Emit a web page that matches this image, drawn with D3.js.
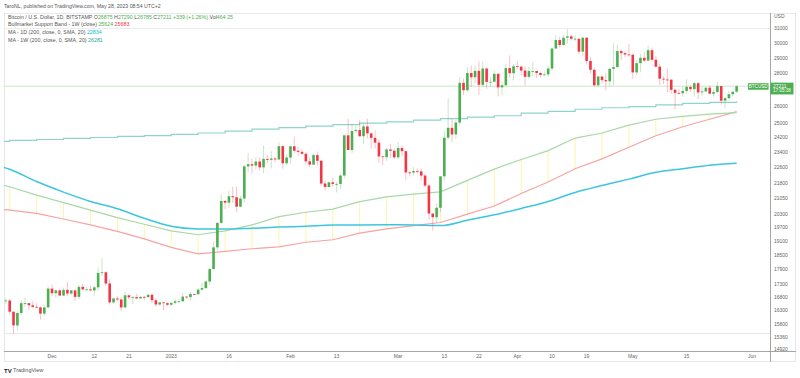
<!DOCTYPE html>
<html><head><meta charset="utf-8">
<script src="https://cdn.jsdelivr.net/npm/d3@7"></script>
<style>html,body{margin:0;padding:0;background:#fff}svg{display:block}text{font-family:"Liberation Sans",Arial,sans-serif}</style>
</head><body>
<svg id="c" width="800" height="378"></svg>
<script>
// ---------------- DATA ----------------
const startDate = "2022-11-19"; // first daily candle
const open = [
16690,16700,16280,15780,16230,16600,16600,16520,16460,16440,16210,16440,
17160,16980,17090,16890,17110,16970,17090,16840,17230,17130,17130,17090,17210,17780,17810,17360,16630,16780,16740,16440,16900,16820,16830,16780,16840,16830,16920,16710,16550,16630,16600,
16540,16610,16670,16670,16850,16830,16950,16940,17120,17180,17440,17940,18850,19930,20950,20870,21180,21130,20680,21070,22670,22780,22710,22920,22620,23060,23010,23080,23030,23740,22830,
23130,23730,23490,23430,23330,22930,22760,23260,22960,21800,21630,21860,21780,21780,22200,24330,23530,24570,24630,24280,24830,24440,24190,23930,23190,23150,23560,23490,
23140,23640,23470,22360,22350,22430,22410,22200,21700,20360,20190,20630,22160,24200,24750,24380,25050,27420,26960,28040,27770,28180,27300,28330,27480,27490,27990,27140,27270,28360,28030,
28480,28450,28200,27800,28170,28170,28040,27920,27950,28330,29650,30230,29890,30390,30490,30320,30320,29440,30390,28820,28250,27270,27820,27590,27520,28310,28420,29480,29340,29250,
29230,28080,28680,29030,28850,29540,28900,28450,27680,27630,27620,26990,26800,26780,26920,27170,27030,27400,26830,26890,27120,26750,26850,27220,26330,26480,26720,26875];
const high = [
16800,16750,16290,16300,16700,16800,16610,16680,16600,16480,16530,17250,
17320,17100,17150,17200,17420,17110,17130,17300,17350,17230,17270,17250,18000,18390,17850,17530,16800,16860,16820,17050,16920,16870,16950,16870,16870,16940,16970,16780,16650,16640,16630,
16630,16780,16760,16990,16880,17040,16970,17170,17390,17490,17990,19100,19970,21260,21000,21450,21640,21650,21190,22750,23360,23070,23160,23130,23780,23260,23470,23170,23940,23800,23300,
23780,24250,23710,23580,23440,23150,23360,23450,23010,21930,21900,22080,21890,22300,24370,25250,24990,24880,25180,25050,25270,24480,24600,24130,23210,23660,23870,23610,
23980,23790,23480,22420,22630,22560,22550,22270,21800,20370,20830,22180,24570,26470,25260,25200,27770,27700,28420,28520,28490,28800,28770,28380,27790,28200,28030,27500,28650,29190,28640,
28800,28530,28480,28450,28760,28190,28110,28150,28510,29750,30550,30470,30600,31000,30610,30560,30320,30480,30410,29100,28370,27880,27820,28010,28400,30020,29890,29580,29440,29980,
29330,28890,29270,29380,29850,29720,29170,28650,27830,28330,27640,27060,27050,27200,27660,27280,27480,27480,27180,27160,27280,27060,27490,27230,26540,26940,26920,27290];
const low = [
16560,16180,15480,15600,16160,16460,16350,16420,16400,15990,16120,16430,
16860,16790,16880,16880,16880,16910,16690,16740,17110,17090,17070,16880,17080,17660,17270,16550,16580,16670,16300,16400,16750,16560,16770,16770,16720,16800,16600,16470,16500,16340,16490,
16500,16550,16600,16660,16760,16680,16910,16910,17110,17150,17310,17920,18720,19890,20560,20630,20860,20420,20660,20870,22370,22300,22520,22460,22320,22840,22560,22880,23000,22540,22720,
22780,23380,23220,23260,22770,22630,22750,22710,21690,21460,21610,21640,21360,21540,22050,23530,23360,24460,24260,23850,24160,23590,23610,22850,22740,22950,23100,23040,
23030,23200,21980,22160,22200,22300,21930,21590,20060,19570,19940,20420,21920,24090,23960,24140,24900,26660,26900,27160,27390,26670,27170,27050,27170,27450,26590,26660,27240,27730,27560,
28270,27880,27250,27680,27840,27730,27780,27880,27800,28170,29630,29720,29860,29990,30240,30140,29270,29120,28600,28020,27150,27130,27370,26960,27210,27260,28400,28900,29090,29110,
27680,27890,28120,28710,28820,28810,28380,27290,27350,26830,26750,25810,26710,26580,26720,26880,26580,26420,26640,26840,26730,26560,26800,26090,25870,26350,26570,26785];
const close = [
16700,16280,15780,16230,16600,16600,16520,16460,16440,16210,16440,17160,
16980,17090,16890,17110,16970,17090,16840,17230,17130,17130,17090,17210,17780,17810,17360,16630,16780,16740,16440,16900,16820,16830,16780,16840,16830,16920,16710,16550,16630,16600,16540,
16610,16670,16670,16850,16830,16950,16940,17120,17180,17440,17940,18850,19930,20950,20870,21180,21130,20680,21070,22670,22780,22710,22920,22620,23060,23010,23080,23030,23740,22830,23130,
23730,23490,23430,23330,22930,22760,23260,22960,21800,21630,21860,21780,21780,22200,24330,23530,24570,24630,24280,24830,24440,24190,23930,23190,23150,23560,23490,23140,
23640,23470,22360,22350,22430,22410,22200,21700,20360,20190,20630,22160,24200,24750,24380,25050,27420,26960,28040,27770,28180,27300,28330,27480,27490,27990,27140,27270,28360,28030,28480,
28450,28200,27800,28170,28170,28040,27920,27950,28330,29650,30230,29890,30390,30490,30320,30320,29440,30390,28820,28250,27270,27820,27590,27520,28310,28420,29480,29340,29250,29230,
28080,28680,29030,28850,29540,28900,28450,27680,27630,27620,26990,26800,26780,26920,27170,27030,27400,26830,26890,27120,26750,26850,27220,26330,26480,26720,26870,27211];

// weekly sample dates (Sundays) for indicator lines
const weekStart = "2022-11-13";
const bandSMA20W = [21950,21640,21230,20870,20520,20170,19870,19570,19400,19570,19840,20220,20420,20570,20920,21150,21280,21390,21960,22530,23030,23500,24180,24460,24900,25240,25400,25530,25624];
const bandEMA21W = [20620,20520,20370,20110,19840,19550,19220,18850,18570,18680,18790,18870,19070,19180,19470,19660,19810,19950,20330,20710,21310,21880,22550,23060,23680,24310,24810,25240,25683];
const ma200D = [22860,22520,21900,21380,20930,20580,20140,19780,19660,19650,19690,19740,19780,19830,19840,19850,19840,19810,20050,20300,20600,20930,21360,21700,22020,22370,22550,22730,22834];
const ma200W = [24000,24050,24100,24160,24210,24270,24320,24380,24460,24570,24680,24760,24850,24930,25020,25090,25190,25270,25360,25440,25590,25700,25820,25910,25980,26080,26170,26230,26281];

const yTicks = [31000,30000,29000,28000,26000,25000,24200,23400,22600,21800,21050,20300,19700,19100,18500,17900,17300,16800,16300,15800,15360,14920];
const xTickDates = ["2022-12-01","2022-12-12","2022-12-21","2023-01-01","2023-01-16","2023-02-01","2023-02-13","2023-03-01","2023-03-13","2023-03-22","2023-04-01","2023-04-10","2023-04-19","2023-05-01","2023-05-15","2023-06-01"];
const xTickLabels = ["Dec","12","21","2023","16","Feb","13","Mar","13","22","Apr","10","19","May","15","Jun"];

const legendVol = "464.25";
const legendChange = "+339 (+1.26%)";

// ---------------- CHART ----------------
const n = close.length;
if (open.length!==n||high.length!==n||low.length!==n) throw new Error("length mismatch "+[open.length,high.length,low.length,n]);
const parse = d3.utcParse("%Y-%m-%d");
const dates = d3.utcDay.range(parse(startDate), d3.utcDay.offset(parse(startDate), n));
const wdates = d3.utcWeek.range(parse(weekStart), d3.utcDay.offset(parse(weekStart), 7*bandSMA20W.length));

const svg = d3.select("#c");
const W=800,H=378;
const L=4, R=770, T=13, B=351;
svg.append("rect").attr("width",W).attr("height",H).attr("fill","#fff");

const x = d3.scaleUtc().domain([parse("2022-12-01"), parse("2023-06-01")]).range([52,752]);
const y = d3.scaleLog().domain([14920,31000]).range([350,29]);

// header
svg.append("text").attr("x",4).attr("y",8).attr("font-size",5.2).attr("fill","#555")
  .text("TaroNL, published on TradingView.com, May 28, 2023 08:54 UTC+2");

// frame
svg.append("rect").attr("x",L+0.5).attr("y",T+0.5).attr("width",796-L-1).attr("height",362-T-1)
  .attr("fill","none").attr("stroke","#e6e8ee");
svg.append("line").attr("x1",L).attr("x2",R).attr("y1",28.5).attr("y2",28.5).attr("stroke","#ececec");
svg.append("line").attr("x1",L).attr("x2",R).attr("y1",333.5).attr("y2",333.5).attr("stroke","#e6e6e6");

const clip = svg.append("clipPath").attr("id","cp").append("rect").attr("x",L).attr("y",T).attr("width",R-L).attr("height",B-T);
const g = svg.append("g").attr("clip-path","url(#cp)");

// bull band fill (weekly vertical lines)
g.selectAll("line.band").data(wdates).enter().append("line")
  .attr("x1",(d)=>x(d)).attr("x2",(d)=>x(d))
  .attr("y1",(d,i)=>y(bandSMA20W[i])).attr("y2",(d,i)=>y(bandEMA21W[i]))
  .attr("stroke","#fff3a8").attr("stroke-width",1);

const lineW = (arr, curve) => d3.line().x((d,i)=>x(wdates[i])).y(d=>y(d)).curve(curve||d3.curveLinear)(arr);
g.append("path").attr("d",lineW(bandEMA21W)).attr("fill","none").attr("stroke","#f7a3a3").attr("stroke-width",1.2);
g.append("path").attr("d",lineW(bandSMA20W)).attr("fill","none").attr("stroke","#a8d8a8").attr("stroke-width",1.2);
g.append("path").attr("d",lineW(ma200W, d3.curveStepAfter)).attr("fill","none").attr("stroke","#8fd3ca").attr("stroke-width",1.2);
g.append("path").attr("d",lineW(ma200D, d3.curveMonotoneX)).attr("fill","none").attr("stroke","#3cc6de").attr("stroke-width",1.5);

// price line
const last = close[n-1];
g.append("line").attr("x1",L).attr("x2",R).attr("y1",y(last)).attr("y2",y(last)).attr("stroke","#b9e2bb").attr("stroke-width",0.8);

// candles
const up="#4caf50", dn="#f23645";
const bw = 2.6;
const cg = g.append("g");
dates.forEach((d,i)=>{
  const c = close[i]>=open[i]?up:dn;
  const cx = x(d);
  cg.append("line").attr("x1",cx).attr("x2",cx).attr("y1",y(high[i])).attr("y2",y(low[i]))
    .attr("stroke",c).attr("stroke-width",0.7).attr("stroke-opacity",0.45);
  const y1=y(Math.max(open[i],close[i])), y2=y(Math.min(open[i],close[i]));
  cg.append("rect").attr("x",cx-bw/2).attr("y",y1).attr("width",bw).attr("height",Math.max(0.8,y2-y1)).attr("fill",c);
});

// axes lines
svg.append("line").attr("x1",R+0.5).attr("x2",R+0.5).attr("y1",T).attr("y2",362).attr("stroke","#8f8f8f").attr("stroke-width",0.8);
svg.append("line").attr("x1",L).attr("x2",796).attr("y1",B+0.5).attr("y2",B+0.5).attr("stroke","#8f8f8f").attr("stroke-width",0.8);

// y axis labels
svg.append("text").attr("x",774).attr("y",17).attr("font-size",5).attr("fill","#666").attr("dominant-baseline","middle").text("USD");
svg.selectAll("text.yt").data(yTicks).enter().append("text")
  .attr("x",774).attr("y",d=>y(d)).attr("font-size",5).attr("fill","#666").attr("dominant-baseline","middle").text(d=>d);

// x axis labels
svg.selectAll("text.xt").data(xTickDates).enter().append("text")
  .attr("x",d=>x(parse(d))).attr("y",357).attr("font-size",5).attr("fill","#666").attr("text-anchor","middle").attr("dominant-baseline","middle")
  .text((d,i)=>xTickLabels[i]);

// price label
const py = y(last);
svg.append("rect").attr("x",R+0.5).attr("y",py-3.6).attr("width",23).attr("height",11.8).attr("fill","#4caf50");
svg.append("text").attr("x",773).attr("y",py).attr("font-size",5).attr("fill","#fff").attr("dominant-baseline","middle").text(last);
svg.append("text").attr("x",773).attr("y",py+5).attr("font-size",4.6).attr("fill","#fff").attr("dominant-baseline","middle").text("17:05:38");
svg.append("rect").attr("x",748).attr("y",py-3).attr("width",20.5).attr("height",6.5).attr("fill","#4caf50");
svg.append("text").attr("x",758.2).attr("y",py+0.3).attr("font-size",4.6).attr("fill","#fff").attr("text-anchor","middle").attr("dominant-baseline","middle").text("BTCUSD");

// legend
const gray="#555";
const fs=5.3;
function row(yy, parts){
  const t = svg.append("text").attr("x",8).attr("y",yy).attr("font-size",fs).attr("dominant-baseline","middle");
  parts.forEach(p=>t.append("tspan").attr("fill",p[1]).text(p[0]));
}
row(18.3,[["Bitcoin / U.S. Dollar, 1D, BITSTAMP  ",gray],["O",gray],[String(open[n-1]),up],[" H",gray],[String(high[n-1]),up],[" L",gray],[String(low[n-1]),up],[" C",gray],[String(close[n-1]),up],["  "+legendChange,up],["  Vol",gray],[legendVol,up]]);
row(25.3,[["Bullmarket Support Band - 1W (close)  ",gray],[String(bandSMA20W[bandSMA20W.length-1]),"#4caf50"],["  ",gray],[String(bandEMA21W[bandEMA21W.length-1]),"#f23645"]]);
row(33.2,[["MA - 1D (200, close, 0, SMA, 20)  ",gray],[String(ma200D[ma200D.length-1]),"#00bcd4"]]);
row(40.7,[["MA - 1W (200, close, 0, SMA, 20)  ",gray],[String(ma200W[ma200W.length-1]),"#26a69a"]]);

// logo
svg.append("text").attr("x",4).attr("y",371).attr("font-size",6).attr("font-weight","bold").attr("fill","#131722").attr("dominant-baseline","middle").text("TV");
svg.append("text").attr("x",13).attr("y",371).attr("font-size",5.5).attr("fill","#555").attr("dominant-baseline","middle").text("TradingView");
</script>
</body></html>
